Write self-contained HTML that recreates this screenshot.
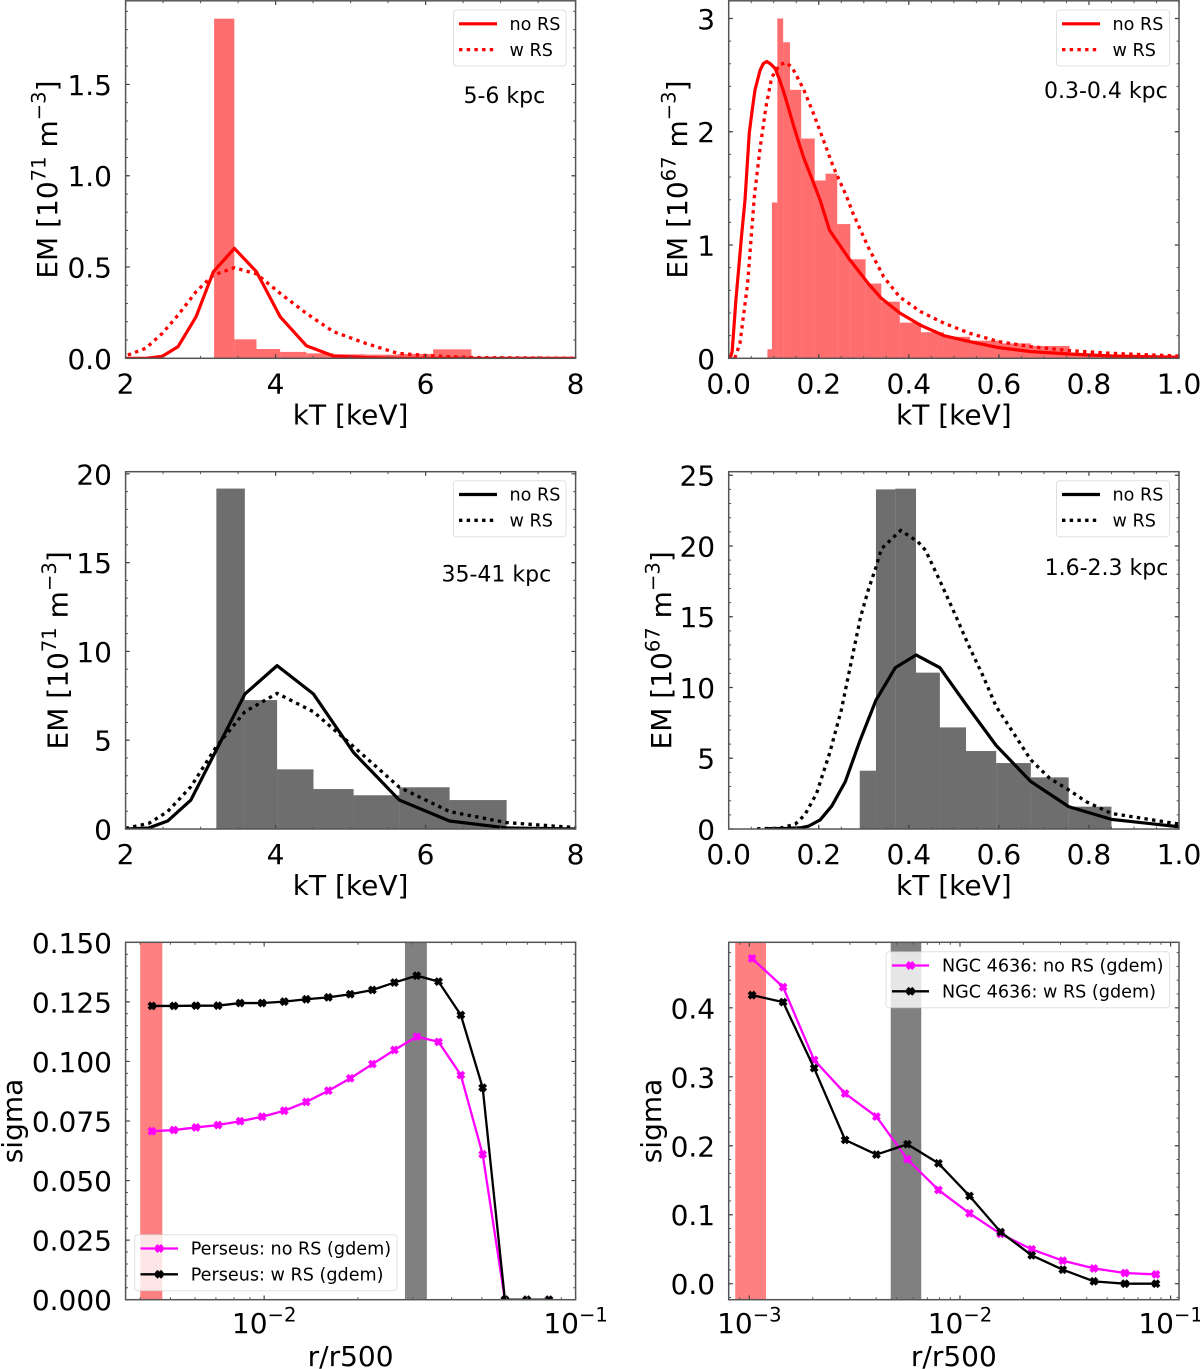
<!DOCTYPE html>
<html lang="en">
<head>
<meta charset="utf-8">
<title>Emission measure distributions and sigma profiles</title>
<style>
  html, body { margin: 0; padding: 0; background: #ffffff; }
  #figure { display: block; }
  text { font-family: "DejaVu Sans", "Liberation Sans", sans-serif; fill: #000; white-space: pre; }
</style>
</head>
<body>
<svg id="figure" xmlns="http://www.w3.org/2000/svg" width="1200" height="1369" viewBox="0 0 1200 1369"></svg>
<script>
/* ---------- Panel A: 5-6 kpc ---------- */
const aEdges = [3.18, 3.45, 3.745, 4.06, 4.41, 4.77, 5.2, 5.63, 6.1, 6.61];
const aHeights = [1.86, 0.104, 0.051, 0.035, 0.027, 0.022, 0.02, 0.024, 0.049];
const aNoRsX = [2, 2.27, 2.49, 2.70, 2.94, 3.17, 3.45, 3.745, 4.06, 4.41, 4.77, 5.2, 5.63, 8];
const aNoRsY = [0, 0, 0.011, 0.064, 0.228, 0.474, 0.602, 0.474, 0.228, 0.069, 0.013, 0.004, 0, 0];
const aWRsX = [2.03, 2.27, 2.49, 2.70, 2.94, 3.17, 3.45, 3.745, 4.06, 4.41, 4.77, 5.2, 5.63, 6.1, 6.61, 8];
const aWRsY = [0.018, 0.055, 0.137, 0.237, 0.365, 0.456, 0.496, 0.462, 0.356, 0.246, 0.146, 0.082, 0.027, 0.013, 0.004, 0];
const aXTicks = [2, 4, 6, 8];
const aXLabels = ['2', '4', '6', '8'];
const aYTicks = [0, 0.5, 1, 1.5];
const aYLabels = ['0.0', '0.5', '1.0', '1.5'];

/* ---------- Panel B: 0.3-0.4 kpc ---------- */
const bEdges = [0.086, 0.096, 0.108, 0.121, 0.136, 0.161, 0.191, 0.215, 0.241, 0.27, 0.304, 0.339, 0.38, 0.427, 0.478, 0.536, 0.6, 0.671, 0.757, 0.85];
const bHeights = [0.08, 1.376, 3.0, 2.79, 2.37, 1.94, 1.57, 1.63, 1.185, 0.874, 0.66, 0.5, 0.315, 0.23, 0.19, 0.156, 0.132, 0.109, 0.035];
const bNoRsX = [0.0034, 0.0077, 0.016, 0.029, 0.0362, 0.0457, 0.0525, 0.0584, 0.0695, 0.0765, 0.0844, 0.0925, 0.1028, 0.112, 0.1206, 0.132, 0.1435, 0.1657, 0.2027, 0.224, 0.267, 0.31, 0.339, 0.38, 0.427, 0.478, 0.536, 0.6, 0.671, 0.757, 0.85, 1.0];
const bNoRsY = [0, 0.06, 0.515, 1.10, 1.397, 1.99, 2.2, 2.37, 2.54, 2.60, 2.62, 2.60, 2.56, 2.47, 2.37, 2.22, 2.06, 1.78, 1.40, 1.13, 0.88, 0.66, 0.53, 0.40, 0.29, 0.2, 0.147, 0.094, 0.059, 0.038, 0.02, 0.009];
const bWRsX = [0.0136, 0.025, 0.042, 0.0569, 0.0695, 0.0828, 0.0955, 0.114, 0.1288, 0.142, 0.1657, 0.1879, 0.21, 0.2323, 0.262, 0.276, 0.31, 0.344, 0.38, 0.427, 0.478, 0.536, 0.6, 0.671, 0.757, 0.85, 1.0];
const bWRsY = [0, 0.132, 0.66, 1.426, 1.85, 2.22, 2.48, 2.595, 2.61, 2.56, 2.38, 2.165, 1.93, 1.69, 1.426, 1.28, 0.98, 0.72, 0.54, 0.41, 0.31, 0.22, 0.147, 0.103, 0.068, 0.044, 0.02];
const bXTicks = [0, 0.2, 0.4, 0.6, 0.8, 1.0];
const bXLabels = ['0.0', '0.2', '0.4', '0.6', '0.8', '1.0'];
const bYTicks = [0, 1, 2, 3];
const bYLabels = ['0', '1', '2', '3'];

/* ---------- Panel C: 35-41 kpc ---------- */
const cEdges = [3.21, 3.59, 4.02, 4.505, 5.04, 5.65, 6.32, 7.08];
const cHeights = [19.17, 7.26, 3.36, 2.25, 1.9, 2.35, 1.63];
const cNoRsX = [2, 2.31, 2.56, 2.87, 3.21, 3.59, 4.02, 4.505, 5.04, 5.65, 6.32, 7.08, 8];
const cNoRsY = [0, 0.06, 0.45, 1.63, 4.45, 7.6, 9.2, 7.6, 4.3, 1.63, 0.45, 0.06, 0];
const cWRsX = [2, 2.31, 2.56, 2.87, 3.21, 3.59, 4.02, 4.505, 5.04, 5.65, 6.32, 7.08, 8];
const cWRsY = [0.04, 0.32, 0.98, 2.38, 4.64, 6.6, 7.64, 6.6, 4.64, 2.35, 0.98, 0.36, 0.08];
const cXTicks = [2, 4, 6, 8];
const cXLabels = ['2', '4', '6', '8'];
const cYTicks = [0, 5, 10, 15, 20];
const cYLabels = ['0', '5', '10', '15', '20'];

/* ---------- Panel D: 1.6-2.3 kpc ---------- */
const dEdges = [0.291, 0.327, 0.37, 0.416, 0.469, 0.527, 0.594, 0.671, 0.755, 0.85];
const dHeights = [4.12, 24, 24.05, 11.05, 7.18, 5.51, 4.66, 3.65, 1.58];
const dNoRsX = [0.08, 0.131, 0.161, 0.178, 0.203, 0.229, 0.259, 0.291, 0.327, 0.37, 0.416, 0.469, 0.527, 0.594, 0.671, 0.755, 0.85, 1.0];
const dNoRsY = [0.02, 0.05, 0.09, 0.21, 0.64, 1.63, 3.35, 6.2, 9.1, 11.4, 12.3, 11.4, 8.8, 5.9, 3.35, 1.58, 0.68, 0.16];
const dWRsX = [0.063, 0.114, 0.148, 0.169, 0.195, 0.224, 0.25, 0.276, 0.293, 0.31, 0.327, 0.339, 0.382, 0.42, 0.437, 0.471, 0.505, 0.531, 0.565, 0.594, 0.628, 0.671, 0.713, 0.755, 0.794, 0.85, 1.0];
const dWRsY = [0.02, 0.05, 0.35, 1.0, 2.5, 5.35, 8.4, 12.4, 15, 16.9, 18.5, 19.8, 21.1, 20.3, 19.7, 17.4, 15, 13.1, 10.8, 8.65, 7.0, 4.88, 3.58, 2.76, 1.93, 1.1, 0.35];
const dXTicks = [0, 0.2, 0.4, 0.6, 0.8, 1.0];
const dXLabels = ['0.0', '0.2', '0.4', '0.6', '0.8', '1.0'];
const dYTicks = [0, 5, 10, 15, 20, 25];
const dYLabels = ['0', '5', '10', '15', '20', '25'];

/* ---------- Panel E: Perseus sigma profile ---------- */
const eRadius = [0.00436, 0.00513, 0.00604, 0.00711, 0.00837, 0.00985, 0.0116, 0.01365, 0.01607, 0.0189, 0.02227, 0.0262, 0.0309, 0.0363, 0.0428, 0.0503, 0.0593, 0.0697, 0.0821];
const eNoRs = [0.0707, 0.0712, 0.0723, 0.0733, 0.0749, 0.0768, 0.0793, 0.083, 0.0877, 0.0929, 0.0989, 0.1048, 0.1104, 0.1082, 0.0943, 0.061, 0, 0, 0];
const eWRs = [0.1233, 0.1233, 0.1234, 0.1234, 0.1245, 0.1245, 0.1251, 0.1261, 0.1269, 0.1282, 0.13, 0.1331, 0.136, 0.1335, 0.1195, 0.089, 0, 0, 0];
const eRedBand = [0.004, 0.00471];
const eGreyBand = [0.02832, 0.0333];
const eXTicks = [0.01, 0.1];
const eXExponents = ['\u22122', '\u22121'];
const eYTicks = [0, 0.025, 0.05, 0.075, 0.1, 0.125, 0.15];
const eYLabels = ['0.000', '0.025', '0.050', '0.075', '0.100', '0.125', '0.150'];

/* ---------- Panel F: NGC 4636 sigma profile ---------- */
const fRadius = [0.00103, 0.001447, 0.00203, 0.00285, 0.00401, 0.00563, 0.0079, 0.0111, 0.0156, 0.0219, 0.03076, 0.0432, 0.0607, 0.0852];
const fNoRs = [0.4716, 0.43, 0.3245, 0.2757, 0.2423, 0.1804, 0.1359, 0.102, 0.0721, 0.0498, 0.0334, 0.0222, 0.0155, 0.0135];
const fWRs = [0.4184, 0.4082, 0.3125, 0.2085, 0.1872, 0.2022, 0.1746, 0.1272, 0.0749, 0.0411, 0.0203, 0.0034, 0, 0];
const fRedBand = [0.000857, 0.0012];
const fGreyBand = [0.00469, 0.00655];
const fXTicks = [0.001, 0.01, 0.1];
const fXExponents = ['\u22123', '\u22122', '\u22121'];
const fYTicks = [0, 0.1, 0.2, 0.3, 0.4];
const fYLabels = ['0.0', '0.1', '0.2', '0.3', '0.4'];

/* ---------- helpers ---------- */
const NS = 'http://www.w3.org/2000/svg';
const TICK_FS = 28, LABEL_FS = 28, LEGEND_FS = 17.6, NOTE_FS = 22;
const DOTS = '3.4 4.3';
const svg = document.getElementById('figure');

function make(tag, attrs, parent) {
  const e = document.createElementNS(NS, tag);
  for (const k in attrs) e.setAttribute(k, attrs[k]);
  parent.appendChild(e);
  return e;
}
function linearScale(lo, hi, a, b) {
  return v => a + (v - lo) / (hi - lo) * (b - a);
}
function logScale(lo, hi, a, b) {
  return v => a + (Math.log10(v) - Math.log10(lo)) / (Math.log10(hi) - Math.log10(lo)) * (b - a);
}
function fillParts(textEl, parts, fs) {
  let shifted = false;
  parts.forEach(p => {
    const attrs = {};
    if (p.sup) { attrs['font-size'] = fs * 0.7; attrs.dy = -fs * 0.42; shifted = true; }
    else if (shifted) { attrs.dy = fs * 0.42; shifted = false; }
    const ts = make('tspan', attrs, textEl);
    ts.textContent = p.t;
  });
}
function polyPath(xs, ys, sx, sy) {
  return xs.map((x, i) => (i ? 'L' : 'M') + sx(x).toFixed(2) + ' ' + sy(ys[i]).toFixed(2)).join(' ');
}
function xMarkPath(x, y) {
  return `M${x - 3.1} ${y - 3.1}l6.2 6.2M${x - 3.1} ${y + 3.1}l6.2 -6.2`;
}

function drawTicksAndFrame(g, P, sx, sy) {
  const majorX = P.xTicks, majorY = P.yTicks;
  const minorX = [];
  if (P.log) {
    for (let d = -4; d < 0; d++) for (let m = 2; m <= 9; m++) {
      const v = m * Math.pow(10, d);
      if (v > P.xlim[0] && v < P.xlim[1]) minorX.push(v);
    }
  } else {
    for (let v = P.xlim[0]; v <= P.xlim[1] + 1e-9; v += P.xMinor) minorX.push(v);
  }
  const minorY = [];
  const firstY = Math.ceil(P.ylim[0] / P.yMinor) * P.yMinor;
  for (let v = firstY; v <= P.ylim[1] + 1e-9; v += P.yMinor) minorY.push(v);

  minorX.forEach(v => {
    const x = sx(v);
    const t = make('path', { d: `M${x} ${P.b}v-2.4M${x} ${P.t}v2.4`, stroke: '#555', 'stroke-width': 1, fill: 'none' }, g);
    
    
  });
  minorY.forEach(v => {
    const y = sy(v);
    const t = make('path', { d: `M${P.l} ${y}h2.4M${P.r} ${y}h-2.4`, stroke: '#555', 'stroke-width': 1, fill: 'none' }, g);
    
    
  });
  majorX.forEach(v => {
    const x = sx(v);
    const t = make('path', { d: `M${x} ${P.b}v-4.2M${x} ${P.t}v4.2`, stroke: '#444', 'stroke-width': 1.2, fill: 'none' }, g);
    
    
  });
  majorY.forEach(v => {
    const y = sy(v);
    const t = make('path', { d: `M${P.l} ${y}h4.2M${P.r} ${y}h-4.2`, stroke: '#444', 'stroke-width': 1.2, fill: 'none' }, g);
    
    
  });
  const frame = make('rect', { x: P.l, y: P.t, width: P.r - P.l, height: P.b - P.t, fill: 'none', stroke: '#555555', 'stroke-width': 1.5 }, g);
  
  
}

function drawTickLabels(g, P, sx, sy) {
  P.xTicks.forEach((v, i) => {
    const t = make('text', { x: sx(v), y: P.b + (P.log ? 33.5 : 35), 'font-size': TICK_FS, 'text-anchor': 'middle' }, g);
    
    
    if (P.log) fillParts(t, [{ t: '10' }, { t: P.xLabels[i], sup: true }], TICK_FS);
    else t.textContent = P.xLabels[i];
  });
  P.yTicks.forEach((v, i) => {
    const t = make('text', { x: P.l - 13.6, y: sy(v) + 10.5, 'font-size': TICK_FS, 'text-anchor': 'end' }, g);
    
    
    t.textContent = P.yLabels[i];
  });
  const xl = make('text', { x: (P.l + P.r) / 2, y: P.b + (P.log ? 66.5 : 66), 'font-size': LABEL_FS, 'text-anchor': 'middle' }, g);
  
  
  xl.textContent = P.xTitle;
  const yc = (P.t + P.b) / 2;
  const yl = make('text', { x: 0, y: 0, 'font-size': LABEL_FS, 'text-anchor': 'middle', transform: `translate(${P.yTitleX} ${yc}) rotate(-90)` }, g);
  
  
  fillParts(yl, P.yTitle, LABEL_FS);
}

function drawLegend(g, P) {
  const L = P.legend;
  const lg = make('g', {}, g);
  
  
  const box = make('rect', { x: L.x, y: L.y, width: L.w, height: L.h, rx: 3, fill: '#fff', 'fill-opacity': 0.8, stroke: '#cccccc', 'stroke-opacity': 0.6, 'stroke-width': 1 }, lg);
  
  
  L.entries.forEach((en, i) => {
    const y = L.y + 13.8 + i * 25.8;
    const a = { d: `M${L.x + L.pad} ${y}h${L.lineLen}`, stroke: en.color, 'stroke-width': en.sw, fill: 'none' };
    if (en.dash) a['stroke-dasharray'] = en.dash;
    const ln = make('path', a, lg);
    
    
    if (en.marker) {
      const cx = L.x + L.pad + L.lineLen / 2;
      const mk = make('path', { d: xMarkPath(cx, y), stroke: en.color, 'stroke-width': 3.8, fill: 'none' }, lg);
      
      
    }
    const tx = make('text', { x: L.x + L.textOffset, y: y + 6.2, 'font-size': LEGEND_FS }, lg);
    
    
    tx.textContent = en.label;
  });
}

function drawHistPanel(P) {
  const g = make('g', {}, svg);
  
  
  const sx = linearScale(P.xlim[0], P.xlim[1], P.l, P.r);
  const sy = linearScale(P.ylim[0], P.ylim[1], P.b, P.t);
  const clip = make('clipPath', { id: P.name + '-clip' }, g);
  make('rect', { x: P.l, y: P.t, width: P.r - P.l, height: P.b - P.t }, clip);
  const plot = make('g', { 'clip-path': `url(#${P.name}-clip)` }, g);
  
  

  P.heights.forEach((h, i) => {
    const x0 = sx(P.edges[i]), x1 = sx(P.edges[i + 1]);
    const bar = make('rect', { x: x0, y: sy(h), width: x1 - x0, height: sy(0) - sy(h), fill: P.color, 'fill-opacity': P.histAlpha }, plot);
    
    
  });
  const solid = make('path', { d: polyPath(P.noX, P.noY, sx, sy), fill: 'none', stroke: P.color, 'stroke-width': 3.2, 'stroke-linejoin': 'round' }, plot);
  
  
  const dotted = make('path', { d: polyPath(P.wX, P.wY, sx, sy), fill: 'none', stroke: P.color, 'stroke-width': 3.3, 'stroke-dasharray': DOTS }, plot);
  
  

  drawTicksAndFrame(g, P, sx, sy);
  drawTickLabels(g, P, sx, sy);
  drawLegend(g, P);
  const note = make('text', { x: P.noteX, y: P.noteY, 'font-size': NOTE_FS }, g);
  
  
  note.textContent = P.note;
}

function drawProfilePanel(P) {
  const g = make('g', {}, svg);
  
  
  const sx = logScale(P.xlim[0], P.xlim[1], P.l, P.r);
  const sy = linearScale(P.ylim[0], P.ylim[1], P.b, P.t);
  const clip = make('clipPath', { id: P.name + '-clip' }, g);
  make('rect', { x: P.l, y: P.t, width: P.r - P.l, height: P.b - P.t }, clip);
  const plot = make('g', { 'clip-path': `url(#${P.name}-clip)` }, g);
  
  

  const red = make('rect', { x: sx(P.redBand[0]), y: P.t, width: sx(P.redBand[1]) - sx(P.redBand[0]), height: P.b - P.t, fill: '#ff8080' }, plot);
  
  
  const grey = make('rect', { x: sx(P.greyBand[0]), y: P.t, width: sx(P.greyBand[1]) - sx(P.greyBand[0]), height: P.b - P.t, fill: '#808080' }, plot);
  
  

  [[P.noRs, '#ff00ff', 'no-rs'], [P.wRs, '#000000', 'w-rs']].forEach(s => {
    const line = make('path', { d: polyPath(P.radius, s[0], sx, sy), fill: 'none', stroke: s[1], 'stroke-width': 2.3, 'stroke-linejoin': 'round' }, plot);
    
    
    P.radius.forEach((r, i) => {
      const x = sx(r), y = sy(s[0][i]);
      const mk = make('path', { d: xMarkPath(x, y), stroke: s[1], 'stroke-width': 3.8, fill: 'none' }, plot);
      
      
    });
  });

  drawTicksAndFrame(g, P, sx, sy);
  drawTickLabels(g, P, sx, sy);
  drawLegend(g, P);
}

/* ---------- layout ---------- */
const LEFT = { l: 125.6, r: 575.6 }, RIGHT = { l: 728.7, r: 1179 };
function redEntries() {
  return [
    { label: 'no RS', color: '#ff0000', sw: 3.2 },
    { label: 'w RS', color: '#ff0000', sw: 3.3, dash: DOTS }
  ];
}
function blackEntries() {
  return [
    { label: 'no RS', color: '#000000', sw: 3.2 },
    { label: 'w RS', color: '#000000', sw: 3.3, dash: DOTS }
  ];
}
const EM71 = [{ t: 'EM [10' }, { t: '71', sup: true }, { t: ' m' }, { t: '\u22123', sup: true }, { t: ']' }];
const EM67 = [{ t: 'EM [10' }, { t: '67', sup: true }, { t: ' m' }, { t: '\u22123', sup: true }, { t: ']' }];
const SIGMA = [{ t: 'sigma' }];

drawHistPanel({
  name: 'panel-5-6-kpc', l: LEFT.l, r: LEFT.r, t: 0.8, b: 358.3, xlim: [2, 8], ylim: [0, 1.958], xMinor: 0.5, yMinor: 0.1,
  edges: aEdges, heights: aHeights, noX: aNoRsX, noY: aNoRsY, wX: aWRsX, wY: aWRsY, color: '#ff0000', histAlpha: 0.57,
  xTicks: aXTicks, xLabels: aXLabels, yTicks: aYTicks, yLabels: aYLabels, xTitle: 'kT [keV]', yTitle: EM71, yTitleX: 57,
  legend: { x: 453.5, y: 10, w: 112.5, h: 56, pad: 5.5, lineLen: 38, textOffset: 56, entries: redEntries() },
  note: '5-6 kpc', noteX: 463.5, noteY: 103
});
drawHistPanel({
  name: 'panel-0-3-0-4-kpc', l: RIGHT.l, r: RIGHT.r, t: 0.8, b: 358.3, xlim: [0, 1], ylim: [0, 3.156], xMinor: 0.05, yMinor: 0.2,
  edges: bEdges, heights: bHeights, noX: bNoRsX, noY: bNoRsY, wX: bWRsX, wY: bWRsY, color: '#ff0000', histAlpha: 0.57,
  xTicks: bXTicks, xLabels: bXLabels, yTicks: bYTicks, yLabels: bYLabels, xTitle: 'kT [keV]', yTitle: EM67, yTitleX: 687,
  legend: { x: 1056.5, y: 10, w: 113, h: 56, pad: 5.5, lineLen: 38, textOffset: 56, entries: redEntries() },
  note: '0.3-0.4 kpc', noteX: 1044, noteY: 98
});
drawHistPanel({
  name: 'panel-35-41-kpc', l: LEFT.l, r: LEFT.r, t: 471.7, b: 829, xlim: [2, 8], ylim: [0, 20.12], xMinor: 0.5, yMinor: 1,
  edges: cEdges, heights: cHeights, noX: cNoRsX, noY: cNoRsY, wX: cWRsX, wY: cWRsY, color: '#000000', histAlpha: 0.57,
  xTicks: cXTicks, xLabels: cXLabels, yTicks: cYTicks, yLabels: cYLabels, xTitle: 'kT [keV]', yTitle: EM71, yTitleX: 67.5,
  legend: { x: 453.5, y: 480.7, w: 112.5, h: 56, pad: 5.5, lineLen: 38, textOffset: 56, entries: blackEntries() },
  note: '35-41 kpc', noteX: 441.5, noteY: 581.5
});
drawHistPanel({
  name: 'panel-1-6-2-3-kpc', l: RIGHT.l, r: RIGHT.r, t: 471.7, b: 829, xlim: [0, 1], ylim: [0, 25.25], xMinor: 0.05, yMinor: 1,
  edges: dEdges, heights: dHeights, noX: dNoRsX, noY: dNoRsY, wX: dWRsX, wY: dWRsY, color: '#000000', histAlpha: 0.57,
  xTicks: dXTicks, xLabels: dXLabels, yTicks: dYTicks, yLabels: dYLabels, xTitle: 'kT [keV]', yTitle: EM67, yTitleX: 671,
  legend: { x: 1056.5, y: 480.7, w: 113, h: 56, pad: 5.5, lineLen: 38, textOffset: 56, entries: blackEntries() },
  note: '1.6-2.3 kpc', noteX: 1044.6, noteY: 575
});
drawProfilePanel({
  name: 'panel-perseus-sigma', log: true, l: LEFT.l, r: LEFT.r, t: 942.3, b: 1299.7, xlim: [0.00359, 0.1], ylim: [0, 0.15], yMinor: 0.005,
  radius: eRadius, noRs: eNoRs, wRs: eWRs, redBand: eRedBand, greyBand: eGreyBand,
  xTicks: eXTicks, xLabels: eXExponents, yTicks: eYTicks, yLabels: eYLabels, xTitle: 'r/r500', yTitle: SIGMA, yTitleX: 22,
  legend: { x: 134.7, y: 1234.7, w: 262.3, h: 56, pad: 5.8, lineLen: 37.5, textOffset: 56, entries: [
    { label: 'Perseus: no RS (gdem)', color: '#ff00ff', sw: 2.3, marker: true },
    { label: 'Perseus: w RS (gdem)', color: '#000000', sw: 2.3, marker: true }
  ] }
});
drawProfilePanel({
  name: 'panel-ngc-4636-sigma', log: true, l: RIGHT.l, r: RIGHT.r, t: 942.3, b: 1299.7, xlim: [0.000798, 0.1096], ylim: [-0.0232, 0.495], yMinor: 0.02,
  radius: fRadius, noRs: fNoRs, wRs: fWRs, redBand: fRedBand, greyBand: fGreyBand,
  xTicks: fXTicks, xLabels: fXExponents, yTicks: fYTicks, yLabels: fYLabels, xTitle: 'r/r500', yTitle: SIGMA, yTitleX: 661,
  legend: { x: 886, y: 951.7, w: 283.5, h: 56, pad: 6, lineLen: 37, textOffset: 56, entries: [
    { label: 'NGC 4636: no RS (gdem)', color: '#ff00ff', sw: 2.3, marker: true },
    { label: 'NGC 4636: w RS (gdem)', color: '#000000', sw: 2.3, marker: true }
  ] }
});
</script>
</body>
</html>
